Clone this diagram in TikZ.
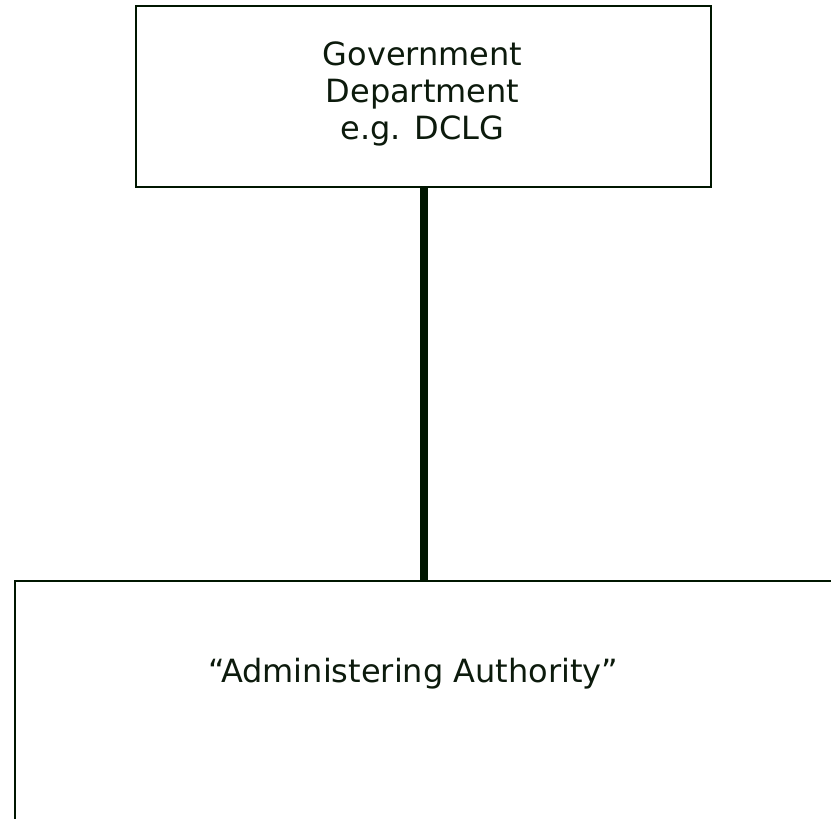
\documentclass[tikz,border=0pt]{standalone}
\usepackage{fontspec}
\setmainfont{DejaVu Sans}
\definecolor{ink}{RGB}{0,22,0}
\definecolor{txt}{RGB}{12,26,12}
\begin{document}
\begin{tikzpicture}[x=1pt,y=-1pt,
  orgbox/.style={draw=ink,line width=2.2pt,rectangle,inner sep=0pt},
  label/.style={text=txt,font=\fontsize{32}{37}\selectfont,align=center,inner sep=0pt},
  link/.style={draw=ink,line width=8pt}]
  \useasboundingbox (0,0) rectangle (831,819);
  \clip (0,0) rectangle (831,819);
  % boxes
  \node[orgbox,minimum width=575pt,minimum height=181pt] (gov) at (423.5,96.5) {};
  \node[orgbox,minimum width=835pt,minimum height=259pt] (aa) at (432.5,710.5) {};
  % texts
  \node[label] (govtext) at (422.5,93.5) {Government\\Department\\e.g. DCLG};
  \node[label,anchor=base] (aatext) at (413.5,682) {“Administering Authority”};
  % connector
  \draw[link] (gov.south) -- (gov.south |- aa.north);
\end{tikzpicture}
\end{document}
